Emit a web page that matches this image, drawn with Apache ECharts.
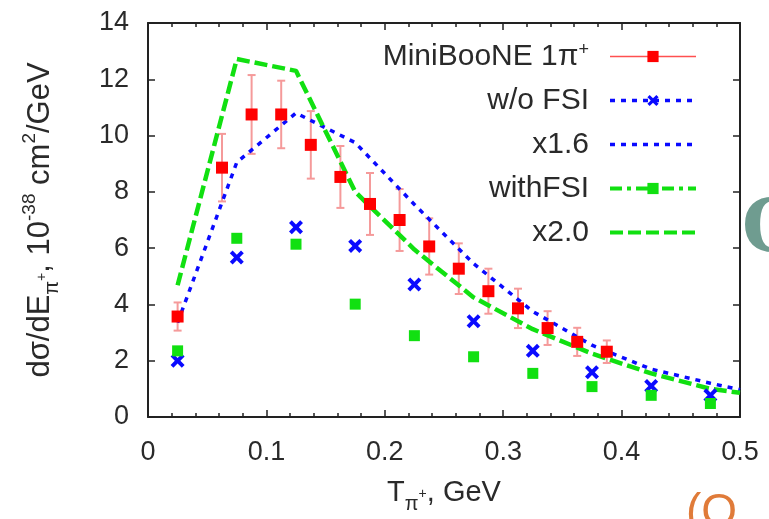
<!DOCTYPE html>
<html><head><meta charset="utf-8">
<script src="https://cdn.jsdelivr.net/npm/echarts@6/dist/echarts.min.js"></script>
<style>html,body{margin:0;padding:0;background:#fff}#c{width:769px;height:519px}</style>
</head><body><div id="c"></div>
<script>
// MiniBooNE data (bin centres, values, errors)
const miniX = [0.025, 0.0625, 0.0875, 0.1125, 0.1375, 0.1625, 0.1875, 0.2125, 0.2375, 0.2625, 0.2875, 0.3125, 0.3375, 0.3625, 0.3875];
const miniY = [3.57, 8.86, 10.75, 10.75, 9.67, 8.53, 7.57, 7.0, 6.06, 5.27, 4.47, 3.86, 3.16, 2.67, 2.32];
const miniErr = [0.5, 1.2, 1.4, 1.2, 1.2, 1.1, 1.1, 1.1, 1.0, 0.9, 0.8, 0.7, 0.6, 0.5, 0.4];
// model points
const modelX = [0.025, 0.075, 0.125, 0.175, 0.225, 0.275, 0.325, 0.375, 0.425, 0.475];
const noFsiY = [2.0, 5.67, 6.74, 6.08, 4.71, 3.4, 2.35, 1.59, 1.1, 0.77];
const withFsiY = [2.35, 6.35, 6.14, 4.01, 2.89, 2.14, 1.55, 1.08, 0.77, 0.48];
// scaled curves
const curveX = [0.025, 0.075, 0.125, 0.175, 0.225, 0.275, 0.325, 0.375, 0.425, 0.475, 0.5];
const x16Y = [3.35, 9.05, 10.8, 9.75, 7.55, 5.45, 3.75, 2.55, 1.7, 1.2, 0.97];
const x20Y = [4.68, 12.72, 12.3, 8.0, 5.95, 4.25, 3.12, 2.25, 1.55, 1.0, 0.86];
// axis ticks
const xTicks = [0, 0.1, 0.2, 0.3, 0.4, 0.5];
const yTicks = [0, 2, 4, 6, 8, 10, 12, 14];
const names = ['MiniBooNE 1π+', 'w/o FSI', 'x1.6', 'withFSI', 'x2.0'];

const F = '"Liberation Sans", Arial, Helvetica, sans-serif';
const pair = (xs, ys) => xs.map((x, i) => [x, ys[i]]);
const RED = '#ff0000', ERR = '#f59a9a', BLUE = '#0a0aff', GREEN = '#11e011';
const XSYM = 'path://M2,0 L5,3 L8,0 L10,2 L7,5 L10,8 L8,10 L5,7 L2,10 L0,8 L3,5 L0,2 Z';
const TXT = '#2a2a2a';

const axisCommon = {
  type: 'value',
  axisLine: {show: true, onZero: false, lineStyle: {color: '#222', width: 2}},
  axisTick: {show: true, inside: true, length: 7, lineStyle: {color: '#222', width: 1.5}},
  splitLine: {show: false}
};
const richText = {
  sub: {fontSize: 20, fontFamily: F, color: TXT, verticalAlign: 'bottom', lineHeight: 20},
  ssup: {fontSize: 14, fontFamily: F, color: TXT, verticalAlign: 'bottom', lineHeight: 14, padding: [0, 0, 13, 0]},
  sup: {fontSize: 19, fontFamily: F, color: TXT, verticalAlign: 'top', lineHeight: 19, padding: [2, 0, 0, 0]}
};

const chart = echarts.init(document.getElementById('c'), null, {renderer: 'canvas'});
const option = {
  animation: false,
  backgroundColor: '#fff',
  grid: {left: 148, right: 29, top: 23, bottom: 97},
  xAxis: [
    Object.assign({}, axisCommon, {
      min: xTicks[0], max: xTicks[xTicks.length - 1], interval: 0.1, position: 'bottom',
      minorTick: {show: true, splitNumber: 5, length: 4, lineStyle: {color: '#222', width: 1.5}},
      axisLabel: {fontSize: 27, color: TXT, fontFamily: F, margin: 22,
        formatter: v => String(Math.round(v * 10) / 10)},
      name: 'T{sub|π}{ssup|+}, GeV', nameLocation: 'middle', nameGap: 55,
      nameTextStyle: {fontSize: 29, color: TXT, fontFamily: F, lineHeight: 42, rich: richText}
    }),
    Object.assign({}, axisCommon, {
      min: xTicks[0], max: xTicks[xTicks.length - 1], interval: 0.1, position: 'top',
      minorTick: {show: true, splitNumber: 5, length: 4, lineStyle: {color: '#222', width: 1.5}},
      axisLabel: {show: false}
    })
  ],
  yAxis: [
    Object.assign({}, axisCommon, {
      min: yTicks[0], max: yTicks[yTicks.length - 1], interval: 2, position: 'left',
      axisLabel: {fontSize: 27, color: TXT, fontFamily: F, margin: 19, padding: [4, 0, 0, 0]},
      name: 'dσ/dE{sub|π}{ssup|+}, 10{sup|-38} cm{sup|2}/GeV', nameLocation: 'middle', nameGap: 86, nameRotate: 90,
      nameTextStyle: {fontSize: 31, color: TXT, fontFamily: F, lineHeight: 44, rich: richText}
    }),
    Object.assign({}, axisCommon, {
      min: yTicks[0], max: yTicks[yTicks.length - 1], interval: 2, position: 'right',
      axisLabel: {show: false}
    })
  ],
  legend: {
    orient: 'vertical', right: 66, top: 36, align: 'right',
    itemWidth: 86, itemHeight: 14, itemGap: 13,
    textStyle: {fontSize: 30, color: TXT, fontFamily: F, lineHeight: 31, padding: [0, 16, 0, 0],
      rich: {sup: {fontSize: 18, fontFamily: F, color: TXT, verticalAlign: 'top', lineHeight: 18}}},
    formatter: n => n.replace('+', '{sup|+}'),
    data: [
      {name: names[0], lineStyle: {opacity: 1, color: '#ff5050', width: 1.5, type: 'solid'}},
      {name: names[1], lineStyle: {opacity: 1, color: BLUE, width: 3.5, type: [5, 6]}},
      {name: names[2], itemStyle: {opacity: 0}, lineStyle: {width: 3.5}},
      {name: names[3], lineStyle: {opacity: 1, color: GREEN, width: 4, type: [12, 5, 4, 5]}},
      {name: names[4], itemStyle: {opacity: 0}, lineStyle: {width: 4}}
    ]
  },
  series: [
    {
      type: 'custom', name: 'err', z: 2,
      data: miniX.map((x, i) => [x, miniY[i] - miniErr[i], miniY[i] + miniErr[i]]),
      encode: {x: 0, y: [1, 2]},
      renderItem: (params, api) => {
        const lo = api.coord([api.value(0), api.value(1)]);
        const hi = api.coord([api.value(0), api.value(2)]);
        const w = 4, st = {stroke: ERR, lineWidth: 2};
        return {type: 'group', children: [
          {type: 'line', shape: {x1: lo[0], y1: lo[1], x2: hi[0], y2: hi[1]}, style: st},
          {type: 'line', shape: {x1: lo[0] - w, y1: lo[1], x2: lo[0] + w, y2: lo[1]}, style: st},
          {type: 'line', shape: {x1: hi[0] - w, y1: hi[1], x2: hi[0] + w, y2: hi[1]}, style: st}
        ]};
      }
    },
    {
      type: 'line', name: names[2], data: pair(curveX, x16Y), symbol: 'none', z: 3,
      lineStyle: {color: BLUE, width: 3.5, type: [5, 6]}, itemStyle: {color: BLUE}
    },
    {
      type: 'line', name: names[4], data: pair(curveX, x20Y), symbol: 'none', z: 3,
      lineStyle: {color: GREEN, width: 4.5, type: [13, 5]}, itemStyle: {color: GREEN}
    },
    {
      type: 'line', name: names[1], data: pair(modelX, noFsiY), symbol: XSYM, symbolSize: 14, z: 4,
      lineStyle: {opacity: 0, color: BLUE}, itemStyle: {color: BLUE}
    },
    {
      type: 'line', name: names[3], data: pair(modelX, withFsiY), symbol: 'rect', symbolSize: 11, z: 4,
      lineStyle: {opacity: 0, color: GREEN}, itemStyle: {color: GREEN}
    },
    {
      type: 'line', name: names[0], data: pair(miniX, miniY), symbol: 'rect', symbolSize: 12, z: 5,
      lineStyle: {opacity: 0, color: RED}, itemStyle: {color: RED}
    }
  ],
  graphic: [
    {type: 'text', x: 742, y: 196, silent: true,
      style: {text: 'O', fontSize: 72, fontWeight: 'bold', fontFamily: '"DejaVu Serif", serif', fill: '#6f9c90'}},
    {type: 'text', x: 686, y: 490, silent: true,
      style: {text: '(O', fontSize: 46, fontFamily: F, fill: '#e07b39'}}
  ]
};
chart.setOption(option);
</script>
</body></html>
